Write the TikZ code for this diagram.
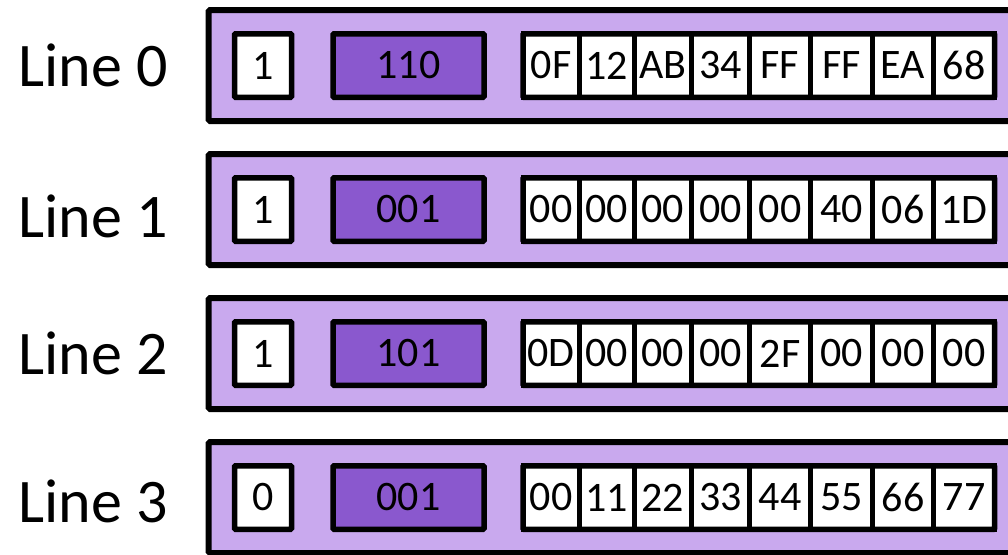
\documentclass[tikz,border=0pt]{standalone}
\usepackage{fontspec}
\setmainfont{Carlito}
\definecolor{lav}{HTML}{C9A9EE}
\definecolor{tagc}{HTML}{8A58CE}
\begin{document}
\begin{tikzpicture}[x=1pt,y=-1pt,
  frame/.style={draw=black,line width=6pt,fill=lav,rounded corners=1.5pt,inner sep=0pt,outer sep=0pt,minimum height=111pt,minimum width=820pt,anchor=west},
  cellbox/.style={draw=black,line width=5.5pt,rounded corners=1pt,inner sep=0pt,outer sep=0pt,minimum height=63.5pt,font=\fontsize{42}{50}\selectfont},
  validbox/.style={cellbox,fill=white,minimum width=57pt},
  tagbox/.style={cellbox,fill=tagc,minimum width=151pt},
  bytebox/.style={cellbox,fill=white,line width=5pt,rounded corners=0pt},
  datafr/.style={draw=black,line width=5.5pt,rounded corners=1pt,inner sep=0pt,outer sep=0pt,minimum height=63.5pt,minimum width=471.5pt},
  linelab/.style={font=\fontsize{62}{70}\selectfont,inner sep=0pt}]
\useasboundingbox (0,0) rectangle (1008,554);
\clip (0,0) rectangle (1008,554);
\def\xs{{523,579.5,634,691.5,749.5,810.5,872.5,933.5,994.5}}
\foreach \r/\ty/\v/\tg/\ly/\data in {
  0/10/1/110/65/{0F,12,AB,34,FF,FF,EA,68},
  1/154/1/001/216/{00,00,00,00,00,40,06,1D},
  2/298/1/101/353/{0D,00,00,00,2F,00,00,00},
  3/442/0/001/501/{00,11,22,33,44,55,66,77}} {
  \pgfmathsetmacro\cy{\ty+55.5}
  \node[linelab] (l\r) at (93,\ly) {Line \r};
  \node[frame] (f\r) at (208.5,\cy) {};
  \node[validbox] (v\r) at (263,\cy) {\v};
  \node[tagbox] (t\r) at (408.5,\cy) {\tg};
  \foreach \b [count=\i] in \data {
    \pgfmathsetmacro\xa{\xs[\i-1]}
    \pgfmathsetmacro\xb{\xs[\i]}
    \pgfmathsetmacro\xc{(\xa+\xb)/2}
    \pgfmathsetmacro\w{\xb-\xa}
    \node[bytebox,minimum width=\w pt] (c\r-\i) at (\xc,\cy) {\b};
  }
  \node[datafr] (d\r) at (758.75,\cy) {};
}
\end{tikzpicture}
\end{document}
